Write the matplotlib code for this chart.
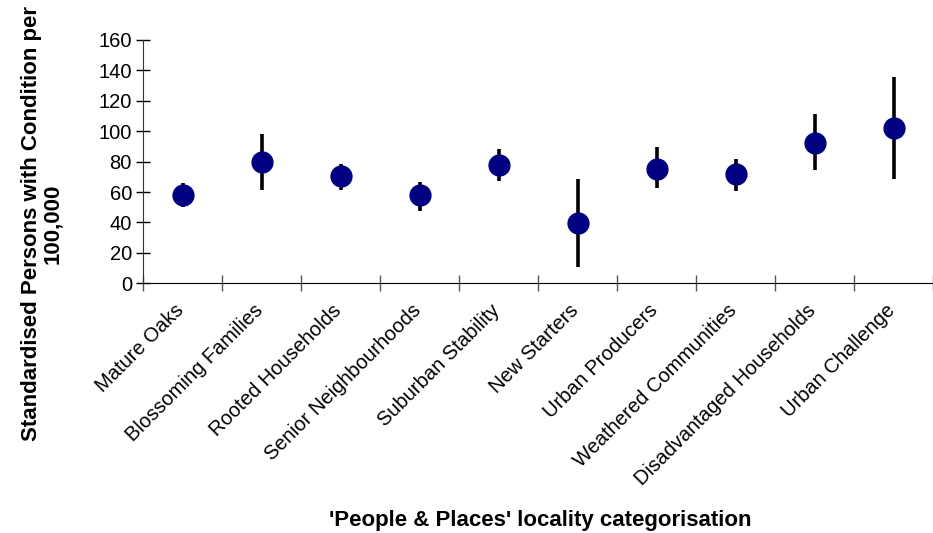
import numpy as np
import matplotlib.pyplot as plt
from matplotlib.ticker import FixedLocator, MultipleLocator

plt.rcParams['font.family'] = ['Liberation Sans', 'DejaVu Sans']

# Locality categories and standardised rates with confidence limits
categories = ['Mature Oaks', 'Blossoming Families', 'Rooted Households',
              'Senior Neighbourhoods', 'Suburban Stability', 'New Starters',
              'Urban Producers', 'Weathered Communities',
              'Disadvantaged Households', 'Urban Challenge']
rate = [58, 80, 70.5, 58, 77.8, 39.4, 75, 71.6, 92.4, 102.3]
lower = [50, 61.3, 61.3, 47.7, 67.3, 10.5, 62.4, 60.9, 74.5, 68.6]
upper = [65.7, 98, 78.2, 66.8, 88.1, 68.4, 89.4, 81.7, 111.3, 135.8]

x = np.arange(len(categories))
rate = np.array(rate)
err = [rate - np.array(lower), np.array(upper) - rate]

fig = plt.figure(figsize=(9.33, 5.33), dpi=100)
ax = fig.add_axes([0.1533, 0.4685, 0.8467, 0.4565])

ax.errorbar(x, rate, yerr=err, fmt='none', ecolor='black', elinewidth=2.6,
            capsize=0, zorder=2)
ax.plot(x, rate, 'o', color='#000080', markersize=15, zorder=3)

ax.set_xlim(-0.5, len(categories) - 0.5)
ax.set_ylim(0, 160)
ax.yaxis.set_major_locator(MultipleLocator(20))

# category names under each point, tick marks between categories
ax.set_xticks(x)
ax.set_xticklabels([])
for xi, name in zip(x, categories):
    ax.annotate(name, xy=(xi, 0), xycoords=('data', 'axes fraction'),
                xytext=(-6, -12.5), textcoords='offset points',
                rotation=45, ha='right', va='top', rotation_mode='anchor',
                fontsize=14.5)
ax.xaxis.set_minor_locator(FixedLocator(np.arange(len(categories) + 1) - 0.5))
ax.tick_params(axis='x', which='major', length=0)
ax.tick_params(axis='x', which='minor', direction='inout', length=12,
               width=1, color='#555555')
ax.tick_params(axis='y', direction='inout', length=10, width=1,
               labelsize=14.5, pad=3)

for side in ['top', 'right']:
    ax.spines[side].set_visible(False)
ax.spines['left'].set_color('#333333')
ax.spines['bottom'].set_color('black')

fig.text(0.045, 0.58, 'Standardised Persons with Condition per\n100,000',
         rotation=90, ha='center', va='center', multialignment='center',
         fontsize=16, fontweight='bold', linespacing=1.0)
fig.text(0.579, 0.024, "'People & Places' locality categorisation",
         ha='center', va='center', fontsize=16, fontweight='bold')

fig.savefig('out.png', dpi=100)
